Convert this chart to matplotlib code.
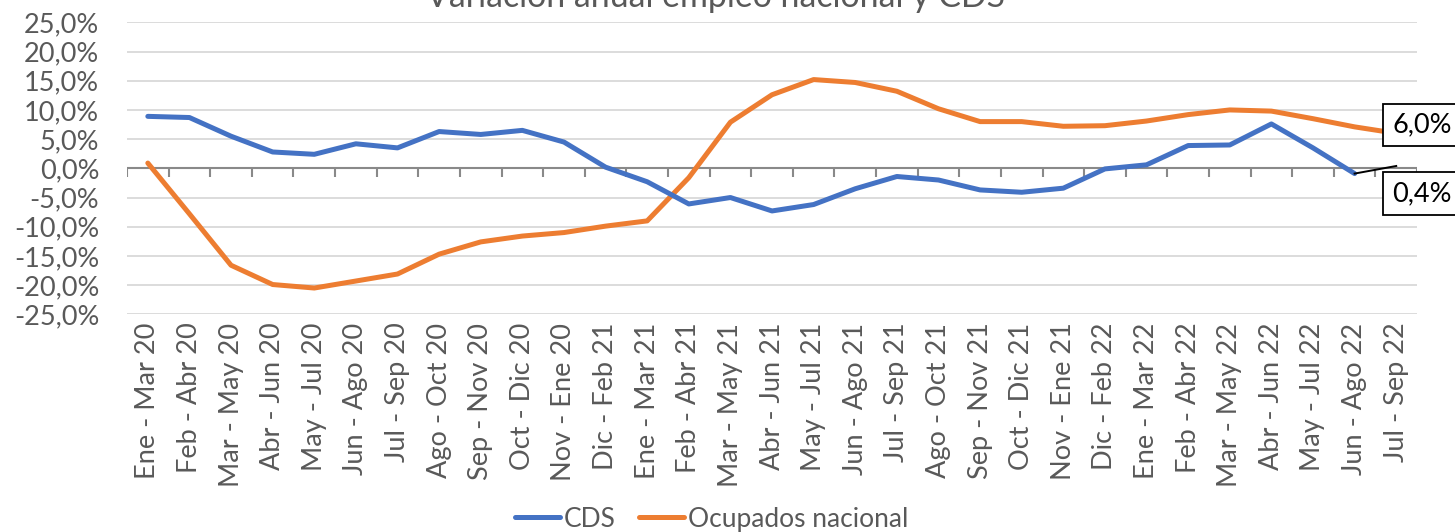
import matplotlib
matplotlib.use("Agg")
import matplotlib.pyplot as plt
from matplotlib.ticker import FixedLocator, FuncFormatter

categories = ["Ene - Mar 20", "Feb - Abr 20", "Mar - May 20", "Abr - Jun 20", "May - Jul 20",
              "Jun - Ago 20", "Jul - Sep 20", "Ago - Oct 20", "Sep - Nov 20", "Oct - Dic 20",
              "Nov - Ene 20", "Dic - Feb 21", "Ene - Mar 21", "Feb - Abr 21", "Mar - May 21",
              "Abr - Jun 21", "May - Jul 21", "Jun - Ago 21", "Jul - Sep 21", "Ago - Oct 21",
              "Sep - Nov 21", "Oct - Dic 21", "Nov - Ene 21", "Dic - Feb 22", "Ene - Mar 22",
              "Feb - Abr 22", "Mar - May 22", "Abr - Jun 22", "May - Jul 22", "Jun - Ago 22",
              "Jul - Sep 22"]
cds = [8.9, 8.7, 5.5, 2.8, 2.4, 4.2, 3.5, 6.3, 5.8, 6.5,
       4.5, 0.2, -2.3, -6.1, -5.0, -7.3, -6.2, -3.5, -1.4, -2.0,
       -3.7, -4.1, -3.4, -0.1, 0.6, 3.9, 4.0, 7.6, 3.5, -0.9,
       0.4]
ocupados = [0.9, -7.8, -16.6, -19.9, -20.5, -19.3, -18.1, -14.7, -12.6, -11.6,
            -11.0, -9.9, -9.0, -1.6, 7.9, 12.6, 15.2, 14.7, 13.2, 10.2,
            8.0, 8.0, 7.2, 7.3, 8.1, 9.2, 10.0, 9.8, 8.5, 7.1,
            6.0]
y_ticks = [-25, -20, -15, -10, -5, 0, 5, 10, 15, 20, 25]

BLUE = "#4472C4"
ORANGE = "#ED7D31"
TXT = "#595959"
AXIS = "#898989"
FONT = ["Lato", "DejaVu Sans"]
plt.rcParams["font.family"] = FONT

fig = plt.figure(figsize=(14.55, 5.32), dpi=100)
ax = fig.add_axes([0.0873, 0.4092, 0.9739 - 0.0873, 0.958 - 0.4092])

x = list(range(len(categories)))
n = len(categories)

ax.plot(x[:-1], cds[:-1], color=BLUE, lw=3.6, solid_capstyle="round", solid_joinstyle="round", zorder=4, label="CDS")
ax.plot(x[-2:], cds[-2:], color="black", lw=1.4, zorder=4)
ax.plot(x, ocupados, color=ORANGE, lw=3.6, solid_capstyle="round", solid_joinstyle="round", zorder=3, label="Ocupados nacional")

ax.set_xlim(-0.5, n - 0.5)
ax.set_ylim(-25, 25)
ax.yaxis.set_major_locator(FixedLocator(y_ticks))
ax.yaxis.set_major_formatter(FuncFormatter(lambda v, p: f"{v:.1f}%".replace(".", ",")))
ax.grid(axis="y", color="#D9D9D9", lw=1.3, zorder=0)
ax.set_axisbelow(True)
for s in ax.spines.values():
    s.set_visible(False)
ax.tick_params(axis="y", length=0, pad=20, labelsize=19.5, labelcolor=TXT)

ax.set_xticks(x)
ax.set_xticklabels(categories, rotation=90, fontsize=19.5, color=TXT)
ax.tick_params(axis="x", length=0, pad=6)

# zero axis line with tick marks at category boundaries
ax.axhline(0, color=AXIS, lw=1.5, zorder=2)
boundaries = [i - 0.5 for i in range(n + 1)]
ax.vlines(boundaries, -1.45, 0, color=AXIS, lw=1.5, zorder=2)

# data labels
bbox = dict(boxstyle="square,pad=0.33", fc="white", ec="black", lw=1.3)
ax.annotate("6,0%", xy=(x[-1], ocupados[-1]), xytext=(-3, 6), textcoords="offset points",
            ha="left", va="center", fontsize=19.5, color="black", bbox=bbox, zorder=6, annotation_clip=False)
ax.annotate("0,4%", xy=(x[-1], cds[-1]), xytext=(-3, -20), textcoords="offset points",
            ha="left", va="center", fontsize=19.5, color="black", bbox=bbox, zorder=6, annotation_clip=False)

fig.text(0.492, 1 - 7 / 532, "Variación anual empleo nacional y CDS", ha="center", va="baseline",
         fontsize=24.4, color=TXT)

fig.legend(loc="center", bbox_to_anchor=(0.489, 0.024), ncol=2, frameon=False, fontsize=19,
           handlelength=1.7, handletextpad=0.15, columnspacing=0.9, labelcolor=TXT)

fig.savefig("out.png", dpi=100)
